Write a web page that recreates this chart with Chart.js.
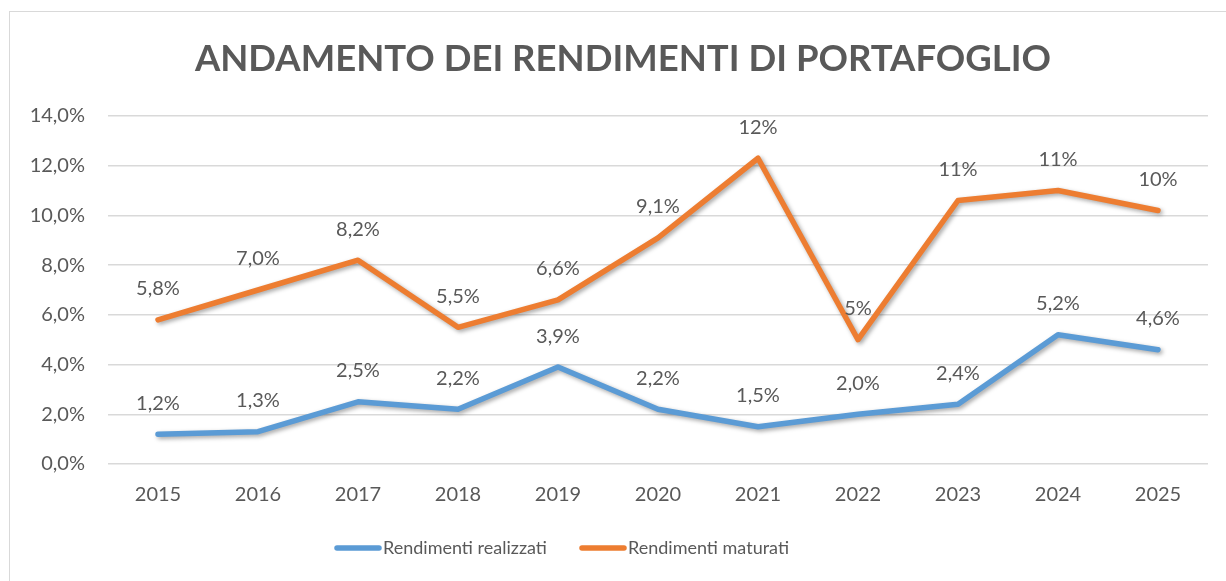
<!DOCTYPE html>
<html><head><meta charset="utf-8">
<script src="https://cdn.jsdelivr.net/npm/chart.js@4/dist/chart.umd.min.js"></script>
<style>html,body{margin:0;padding:0;background:#fff;overflow:hidden}#wrap{position:relative;width:1226px;height:581px}#frame{position:absolute;left:9px;top:11px;width:1300px;height:700px;border:1px solid #d9d9d9;pointer-events:none}canvas{position:absolute;left:0;top:0}</style>
</head><body><div id="wrap"><div id="frame"></div><canvas id="c" width="1226" height="581"></canvas></div>
<script>
const titleText = 'ANDAMENTO DEI RENDIMENTI DI PORTAFOGLIO';
const years = ['2015','2016','2017','2018','2019','2020','2021','2022','2023','2024','2025'];
const realizzati = [1.2,1.3,2.5,2.2,3.9,2.2,1.5,2.0,2.4,5.2,4.6];
const maturati = [5.8,7.0,8.2,5.5,6.6,9.1,12.3,5.0,10.6,11.0,10.2];
const realizzatiLabels = ['1,2%','1,3%','2,5%','2,2%','3,9%','2,2%','1,5%','2,0%','2,4%','5,2%','4,6%'];
const maturatiLabels = ['5,8%','7,0%','8,2%','5,5%','6,6%','9,1%','12%','5%','11%','11%','10%'];
const seriesNames = ['Rendimenti realizzati','Rendimenti maturati'];
const yTicks = {min:0,max:14,step:2};

const FONT = 'Lato, "Open Sans", sans-serif';
const TXT = '#595959';
const labelSets = [realizzatiLabels, maturatiLabels];

const deco = {
  id:'deco',
  beforeDatasetDraw(chart,args){
    const ctx=chart.ctx; ctx.save();
    ctx.shadowColor='rgba(0,0,0,0.35)'; ctx.shadowBlur=4; ctx.shadowOffsetX=2; ctx.shadowOffsetY=2;
  },
  afterDatasetDraw(chart){ chart.ctx.restore(); },
  afterDraw(chart){
    const ctx=chart.ctx; ctx.save();
    ctx.fillStyle=TXT; ctx.font='bold 36.5px '+FONT; ctx.textAlign='center'; ctx.textBaseline='middle';
    ctx.fillText(titleText, 623, 59);
    ctx.font='20px '+FONT; ctx.textBaseline='middle';
    chart.data.datasets.forEach((ds,i)=>{
      const meta=chart.getDatasetMeta(i);
      meta.data.forEach((pt,j)=>{ ctx.fillText(labelSets[i][j], pt.x, pt.y-31); });
    });
    const items=[{x:337,c:chart.data.datasets[0].borderColor,t:seriesNames[0]},{x:582,c:chart.data.datasets[1].borderColor,t:seriesNames[1]}];
    ctx.textAlign='left'; ctx.font='18px '+FONT;
    items.forEach(it=>{
      ctx.strokeStyle=it.c; ctx.lineWidth=5.5; ctx.lineCap='round';
      ctx.beginPath(); ctx.moveTo(it.x,548); ctx.lineTo(it.x+42,548); ctx.stroke();
      ctx.fillStyle=TXT; ctx.fillText(it.t, it.x+46, 548);
    });
    ctx.restore();
  }
};

new Chart(document.getElementById('c'),{
  type:'line',
  data:{labels:years,datasets:[
    {label:seriesNames[0],data:realizzati,borderColor:'#5B9BD5',backgroundColor:'#5B9BD5',borderWidth:5.5,pointRadius:0,tension:0,borderCapStyle:'round',borderJoinStyle:'round'},
    {label:seriesNames[1],data:maturati,borderColor:'#ED7D31',backgroundColor:'#ED7D31',borderWidth:5.5,pointRadius:0,tension:0,borderCapStyle:'round',borderJoinStyle:'round'}
  ]},
  options:{
    responsive:false,animation:false,
    layout:{padding:{top:116,left:0,right:18,bottom:77}},
    plugins:{legend:{display:false},title:{display:false},tooltip:{enabled:false}},
    scales:{
      x:{offset:true,grid:{display:false,drawTicks:false},border:{display:false},
         ticks:{color:TXT,font:{family:FONT,size:20},padding:19},
         afterFit(s){s.height=40;}},
      y:{min:yTicks.min,max:yTicks.max,
         grid:{color:'#d9d9d9',lineWidth:1.5,drawTicks:false},border:{display:false},
         ticks:{stepSize:yTicks.step,color:TXT,font:{family:FONT,size:20},padding:23,
           callback:v=>v.toFixed(1).replace('.',',')+'%'},
         afterFit(s){s.width=108;}}
    }
  },
  plugins:[deco]
});
</script></body></html>
